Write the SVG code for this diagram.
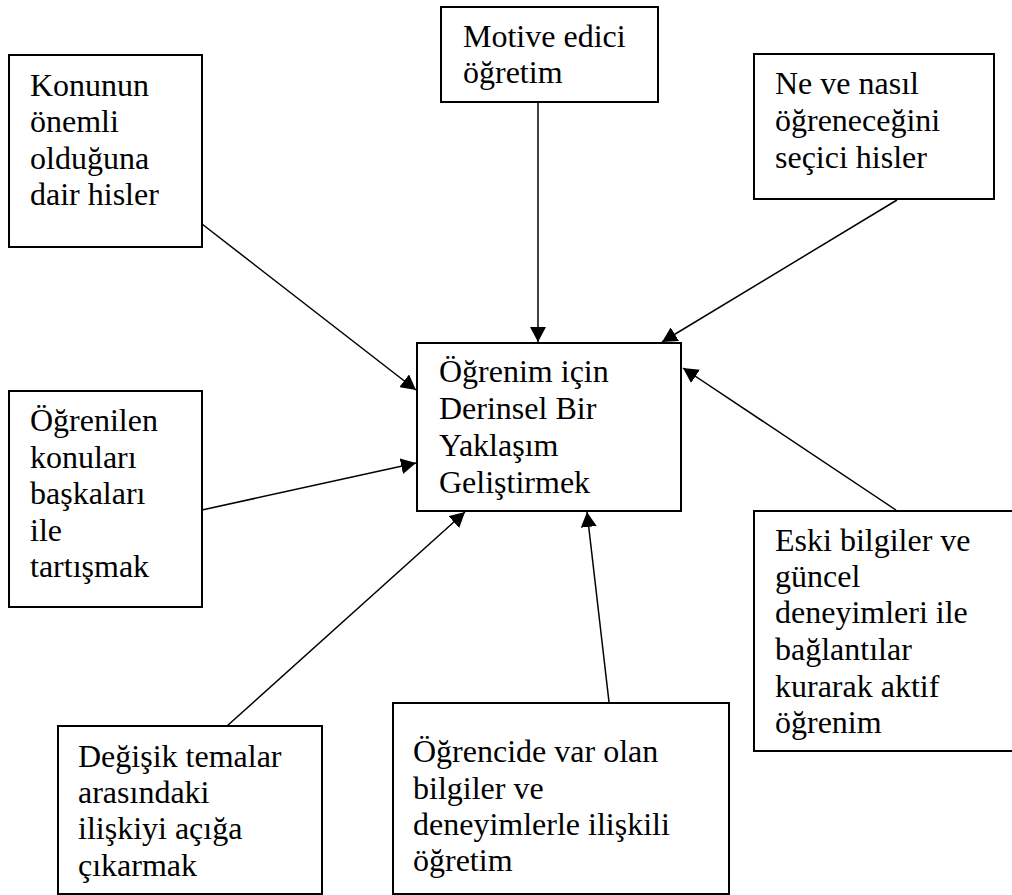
<svg xmlns="http://www.w3.org/2000/svg" width="1012" height="895" viewBox="0 0 1012 895">
<style>
.box{fill:#fff;stroke:#000;stroke-width:2}
text{font-family:'Liberation Serif','Times New Roman',Times,serif;font-size:32px;fill:#000}
.c{stroke:#000;stroke-width:1.5;fill:none;marker-end:url(#ah)}
</style>
<defs>
<marker id="ah" markerUnits="userSpaceOnUse" markerWidth="15" markerHeight="16" viewBox="0 0 15 16" refX="15" refY="8" orient="auto">
<path d="M0,0 L15,8 L0,16 z" fill="#000"/>
</marker>
</defs>
<rect width="1012" height="895" fill="#fff"/>
<g id="connectors">
<line class="c" x1="202" y1="224" x2="416" y2="390"/>
<line class="c" x1="538" y1="102" x2="538" y2="342"/>
<line class="c" x1="897" y1="200" x2="662" y2="342"/>
<line class="c" x1="202" y1="510" x2="416" y2="463"/>
<line class="c" x1="227" y1="726" x2="465" y2="512"/>
<line class="c" x1="609" y1="702" x2="587" y2="512"/>
<line class="c" x1="896" y1="510" x2="683" y2="368"/>
</g>
<g id="center" font-family="Liberation Serif, serif">
<rect class="box" x="417" y="343" width="264" height="168"/>
<text x="439" y="382">Öğrenim için</text>
<text x="439" y="419">Derinsel Bir</text>
<text x="439" y="456">Yaklaşım</text>
<text x="439" y="493">Geliştirmek</text>
</g>
<g id="n1">
<rect class="box" x="9" y="55" width="193" height="192"/>
<text x="30" y="96">Konunun</text>
<text x="30" y="132">önemli</text>
<text x="30" y="169">olduğuna</text>
<text x="30" y="205">dair hisler</text>
</g>
<g id="n2">
<rect class="box" x="441" y="7" width="217" height="95"/>
<text x="463" y="47">Motive edici</text>
<text x="463" y="83">öğretim</text>
</g>
<g id="n3">
<rect class="box" x="754" y="54" width="240" height="145"/>
<text x="775" y="94">Ne ve nasıl</text>
<text x="775" y="131">öğreneceğini</text>
<text x="775" y="168">seçici hisler</text>
</g>
<g id="n4">
<rect class="box" x="9" y="391" width="193" height="216"/>
<text x="30" y="431">Öğrenilen</text>
<text x="30" y="468">konuları</text>
<text x="30" y="504">başkaları</text>
<text x="30" y="541">ile</text>
<text x="30" y="577">tartışmak</text>
</g>
<g id="n5">
<rect class="box" x="754" y="511" width="262" height="240"/>
<text x="775" y="551">Eski bilgiler ve</text>
<text x="775" y="587">güncel</text>
<text x="775" y="623">deneyimleri ile</text>
<text x="775" y="660">bağlantılar</text>
<text x="775" y="697">kurarak aktif</text>
<text x="775" y="733">öğrenim</text>
</g>
<g id="n6">
<rect class="box" x="58" y="726" width="264" height="168"/>
<text x="78" y="767">Değişik temalar</text>
<text x="78" y="803">arasındaki</text>
<text x="78" y="839">ilişkiyi açığa</text>
<text x="78" y="876">çıkarmak</text>
</g>
<g id="n7">
<rect class="box" x="393" y="703" width="336" height="191"/>
<text x="413" y="762">Öğrencide var olan</text>
<text x="413" y="799">bilgiler ve</text>
<text x="413" y="835">deneyimlerle ilişkili</text>
<text x="413" y="871">öğretim</text>
</g>
</svg>
